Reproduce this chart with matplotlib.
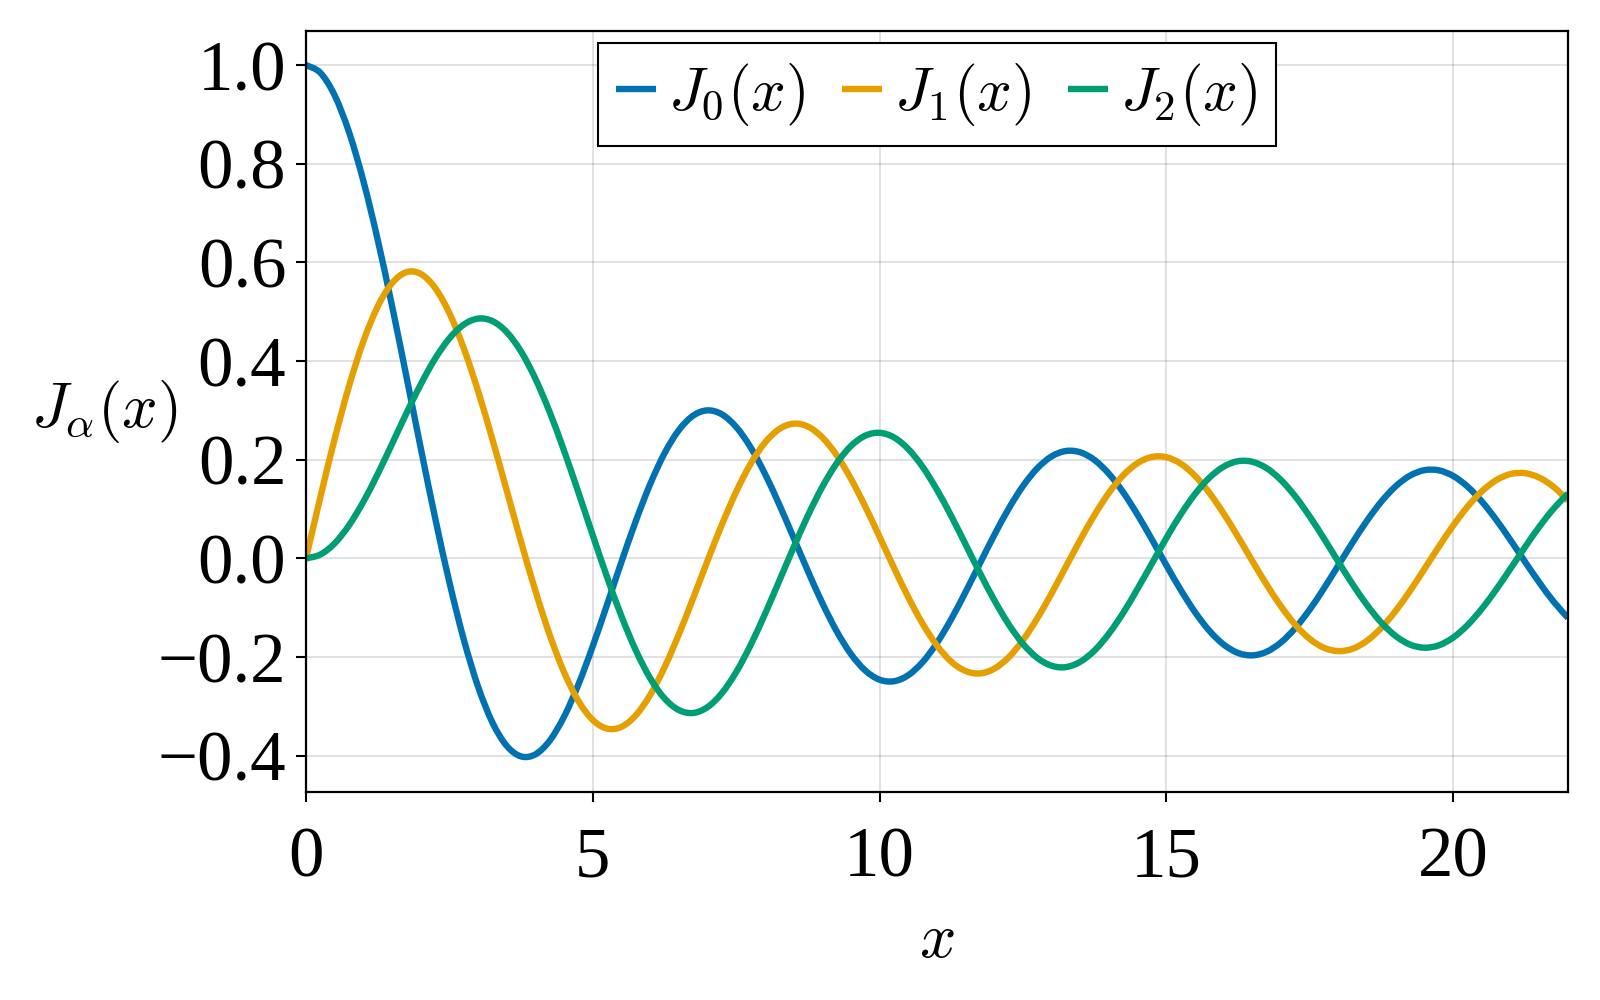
import numpy as np
import matplotlib
matplotlib.use("Agg")
import matplotlib.pyplot as plt
from matplotlib.path import Path
from matplotlib.patches import PathPatch
from matplotlib.lines import Line2D

plt.rcParams['font.family'] = ['Liberation Serif', 'DejaVu Serif']
plt.rcParams['mathtext.fontset'] = 'cm'

# sample positions and values
x = [0.0, 0.25, 0.5, 0.75, 1.0, 1.25, 1.5, 1.75, 2.0, 2.25, 2.5, 2.75,
     3.0, 3.25, 3.5, 3.75, 4.0, 4.25, 4.5, 4.75, 5.0, 5.25, 5.5, 5.75,
     6.0, 6.25, 6.5, 6.75, 7.0, 7.25, 7.5, 7.75, 8.0, 8.25, 8.5, 8.75,
     9.0, 9.25, 9.5, 9.75, 10.0, 10.25, 10.5, 10.75, 11.0, 11.25, 11.5, 11.75,
     12.0, 12.25, 12.5, 12.75, 13.0, 13.25, 13.5, 13.75, 14.0, 14.25, 14.5, 14.75,
     15.0, 15.25, 15.5, 15.75, 16.0, 16.25, 16.5, 16.75, 17.0, 17.25, 17.5, 17.75,
     18.0, 18.25, 18.5, 18.75, 19.0, 19.25, 19.5, 19.75, 20.0, 20.25, 20.5, 20.75,
     21.0, 21.25, 21.5, 21.75, 22.0]

j0 = [1.0000, 0.9844, 0.9385, 0.8642, 0.7652, 0.6459, 0.5118, 0.3690, 0.2239, 0.0827, -0.0484, -0.1641,
      -0.2601, -0.3327, -0.3801, -0.4014, -0.3971, -0.3692, -0.3205, -0.2552, -0.1776, -0.0931, -0.0068, 0.0759,
      0.1506, 0.2131, 0.2601, 0.2895, 0.3001, 0.2920, 0.2663, 0.2253, 0.1717, 0.1092, 0.0419, -0.0259,
      -0.0903, -0.1474, -0.1939, -0.2273, -0.2459, -0.2490, -0.2366, -0.2101, -0.1712, -0.1227, -0.0677, -0.0097,
      0.0477, 0.1009, 0.1469, 0.1829, 0.2069, 0.2178, 0.2150, 0.1991, 0.1711, 0.1333, 0.0878, 0.0376,
      -0.0142, -0.0641, -0.1092, -0.1469, -0.1749, -0.1918, -0.1965, -0.1890, -0.1699, -0.1407, -0.1032, -0.0599,
      -0.0134, 0.0332, 0.0771, 0.1157, 0.1466, 0.1681, 0.1789, 0.1785, 0.1670, 0.1454, 0.1151, 0.0781,
      0.0366, -0.0066, -0.0489, -0.0877, -0.1207]

j1 = [0.0000, 0.1240, 0.2423, 0.3492, 0.4401, 0.5106, 0.5579, 0.5802, 0.5767, 0.5484, 0.4971, 0.4260,
      0.3391, 0.2411, 0.1374, 0.0333, -0.0660, -0.1556, -0.2311, -0.2893, -0.3276, -0.3451, -0.3414, -0.3180,
      -0.2767, -0.2208, -0.1538, -0.0804, -0.0047, 0.0685, 0.1352, 0.1916, 0.2346, 0.2622, 0.2731, 0.2672,
      0.2453, 0.2092, 0.1613, 0.1049, 0.0435, -0.0190, -0.0789, -0.1325, -0.1768, -0.2094, -0.2284, -0.2331,
      -0.2234, -0.2004, -0.1655, -0.1212, -0.0703, -0.0162, 0.0380, 0.0889, 0.1334, 0.1689, 0.1934, 0.2057,
      0.2051, 0.1920, 0.1672, 0.1326, 0.0904, 0.0433, -0.0058, -0.0538, -0.0977, -0.1350, -0.1634, -0.1814,
      -0.1880, -0.1829, -0.1666, -0.1403, -0.1057, -0.0651, -0.0209, 0.0240, 0.0668, 0.1050, 0.1362, 0.1587,
      0.1711, 0.1728, 0.1638, 0.1449, 0.1172]

j2 = [0.0000, 0.0078, 0.0306, 0.0671, 0.1149, 0.1711, 0.2321, 0.2940, 0.3528, 0.4048, 0.4461, 0.4739,
      0.4861, 0.4811, 0.4586, 0.4192, 0.3641, 0.2960, 0.2178, 0.1334, 0.0466, -0.0384, -0.1173, -0.1865,
      -0.2429, -0.2838, -0.3074, -0.3133, -0.3014, -0.2731, -0.2303, -0.1759, -0.1130, -0.0456, 0.0223, 0.0870,
      0.1448, 0.1926, 0.2279, 0.2488, 0.2546, 0.2453, 0.2216, 0.1855, 0.1390, 0.0855, 0.0280, -0.0300,
      -0.0849, -0.1336, -0.1734, -0.2019, -0.2177, -0.2203, -0.2094, -0.1862, -0.1520, -0.1096, -0.0608, -0.0097,
      0.0416, 0.0893, 0.1308, 0.1637, 0.1862, 0.1971, 0.1957, 0.1826, 0.1584, 0.1251, 0.0845, 0.0395,
      -0.0075, -0.0532, -0.0950, -0.1307, -0.1577, -0.1749, -0.1810, -0.1761, -0.1603, -0.1350, -0.1018, -0.0628,
      -0.0203, 0.0229, 0.0641, 0.1010, 0.1315]

labels = [r'$J_0(x)$', r'$J_1(x)$', r'$J_2(x)$']
colors = ['#0072B2', '#E69F00', '#009E73']

xticks = [0, 5, 10, 15, 20]
yticks = [-0.4, -0.2, 0.0, 0.2, 0.4, 0.6, 0.8, 1.0]
yticklabels = ['\u22120.4', '\u22120.2', '0.0', '0.2', '0.4', '0.6', '0.8', '1.0']

LW = 4.6


def smooth_path(xs, ys):
    # draw through the read points with cubic bezier pieces (catmull-rom handles)
    p = np.column_stack([xs, ys])
    n = len(p)
    verts = [p[0]]
    codes = [Path.MOVETO]
    for i in range(n - 1):
        p0 = p[max(i - 1, 0)]
        p1 = p[i]
        p2 = p[i + 1]
        p3 = p[min(i + 2, n - 1)]
        verts += [p1 + (p2 - p0) / 6, p2 - (p3 - p1) / 6, p2]
        codes += [Path.CURVE4] * 3
    return Path(verts, codes)


fig = plt.figure(figsize=(16, 10), dpi=100)
ax = fig.add_axes([306 / 1600, 1 - 791.7 / 1000, 1262 / 1600, 761.2 / 1000])

handles = []
for y, c, lab in zip([j0, j1, j2], colors, labels):
    patch = PathPatch(smooth_path(x, y), fill=False, edgecolor=c, lw=LW,
                      capstyle='butt', joinstyle='round', zorder=3)
    ax.add_patch(patch)
    handles.append(Line2D([], [], color=c, lw=LW, solid_capstyle='butt', label=lab))

ax.set_xlim(0, 22)
ax.set_ylim(-0.4729, 1.0701)
ax.set_xticks(xticks)
ax.set_xticklabels([str(t) for t in xticks])
ax.set_yticks(yticks)
ax.set_yticklabels(yticklabels)

ax.grid(True, color='black', alpha=0.12, lw=1.4)
ax.set_axisbelow(True)
for s in ax.spines.values():
    s.set_linewidth(1.6)
    s.set_zorder(4)

ax.tick_params(axis='both', direction='out', length=7.2, width=1.5, labelsize=51)
ax.tick_params(axis='y', pad=7)
ax.tick_params(axis='x', pad=18)

ax.set_ylabel(r'$J_\alpha(x)$', fontsize=45, rotation=0, ha='center', va='center')
ax.yaxis.set_label_coords(-0.16, 0.5)
ax.set_xlabel(r'$x$', fontsize=46, va='center')
ax.xaxis.set_label_coords(0.5, -0.1975)

leg = ax.legend(handles=handles, loc='upper center', ncol=3, fontsize=44, frameon=True,
                fancybox=False, edgecolor='black', framealpha=1, handlelength=0.65,
                handletextpad=0.2, columnspacing=0.6, borderpad=0.3, borderaxespad=0.2)
leg.get_frame().set_linewidth(1.5)

fig.savefig('out.png', dpi=100)
